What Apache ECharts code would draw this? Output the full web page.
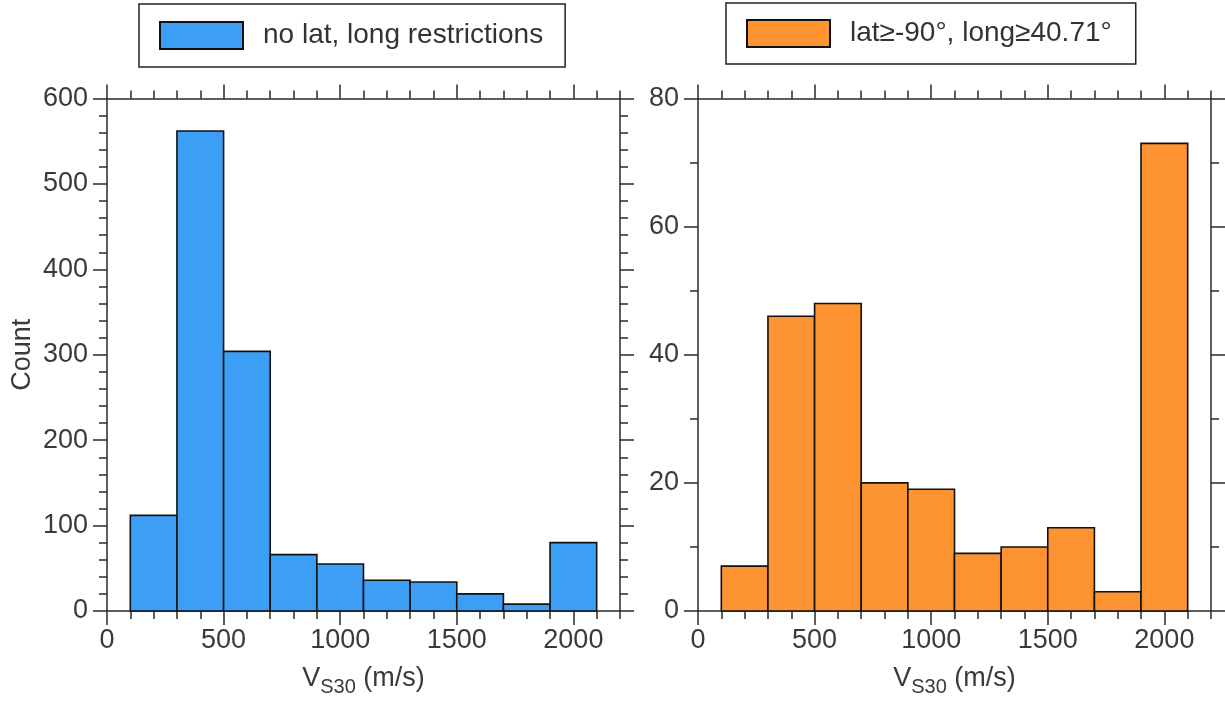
<!DOCTYPE html>
<html>
<head>
<meta charset="utf-8">
<script src="https://cdn.jsdelivr.net/npm/echarts@6/dist/echarts.min.js"></script>
<style>
  html, body { margin: 0; padding: 0; background: #fff; }
  #chart { width: 1225px; height: 702px; }
</style>
</head>
<body>
<div id="chart"></div>
<script>
// Histogram bins (m/s)
const binLow  = [100, 300, 500, 700, 900, 1100, 1300, 1500, 1700, 1900];
const binHigh = [300, 500, 700, 900, 1100, 1300, 1500, 1700, 1900, 2100];

// Counts per bin
const countsAll = [112, 562, 304, 66, 55, 36, 34, 20, 8, 80];
const countsRestricted = [7, 46, 48, 20, 19, 9, 10, 13, 3, 73];

const seriesNames = ['no lat, long restrictions', 'lat\u2265-90\u00b0, long\u226540.71\u00b0'];
const xMajorTicks = [0, 500, 1000, 1500, 2000];
const yMajorTicksAll = [0, 100, 200, 300, 400, 500, 600];
const yMajorTicksRestricted = [0, 20, 40, 60, 80];

const FONT = 'Liberation Sans, Arial, sans-serif';
const AXIS_COLOR = '#2a2a2a';
const TEXT_COLOR = '#3a3a3a';

function histData(counts) {
  return counts.map((c, i) => [binLow[i], binHigh[i], c]);
}

function renderBin(params, api) {
  const p0 = api.coord([api.value(0), api.value(2)]);
  const p1 = api.coord([api.value(1), 0]);
  return {
    type: 'rect',
    shape: { x: p0[0], y: p0[1], width: p1[0] - p0[0], height: p1[1] - p0[1] },
    style: api.style()
  };
}

const plainNumber = v => String(v);
const tickLine = { color: AXIS_COLOR, width: 1.5 };

// Each side of a frame: one axis with the line and short ticks, one with long ticks (+ labels)
function sideAxes(kind, gridIndex, pos, max, minorStep, majorValues, labelled, nameOpts) {
  const base = {
    type: 'value', gridIndex: gridIndex, position: pos,
    min: 0, max: max, interval: minorStep,
    splitLine: { show: false }
  };
  const minor = Object.assign({}, base, {
    axisLine: { show: true, onZero: false, lineStyle: tickLine },
    axisTick: { show: true, inside: false, length: 8, lineStyle: tickLine },
    axisLabel: { show: false }
  });
  const major = Object.assign({}, base, {
    axisLine: { show: false, onZero: false },
    axisTick: { show: true, inside: false, length: 14, customValues: majorValues, lineStyle: tickLine },
    axisLabel: {
      show: labelled, customValues: majorValues, formatter: plainNumber,
      margin: kind === 'x' ? 16 : 19,
      fontSize: 27, color: TEXT_COLOR, fontFamily: FONT
    }
  }, nameOpts || {});
  return [minor, major];
}

const xTitle = {
  name: '{v|V}{s|S30}{v| (m/s)}',
  nameLocation: 'middle',
  nameGap: 54,
  nameTextStyle: {
    rich: {
      v: { fontSize: 27, color: TEXT_COLOR, fontFamily: FONT, padding: [0, 0, 5, 0] },
      s: { fontSize: 20, color: TEXT_COLOR, fontFamily: FONT, verticalAlign: 'bottom' }
    }
  }
};

const yTitle = {
  name: 'Count',
  nameLocation: 'middle',
  nameGap: 71,
  nameTextStyle: { fontSize: 27, color: TEXT_COLOR, fontFamily: FONT }
};

const xAxis = [].concat(
  sideAxes('x', 0, 'bottom', 2200, 100, xMajorTicks, true, xTitle),   // 0,1
  sideAxes('x', 0, 'top', 2200, 100, xMajorTicks, false),             // 2,3
  sideAxes('x', 1, 'bottom', 2200, 100, xMajorTicks, true, xTitle),   // 4,5
  sideAxes('x', 1, 'top', 2200, 100, xMajorTicks, false)              // 6,7
);

const yAxis = [].concat(
  sideAxes('y', 0, 'left', 600, 20, yMajorTicksAll, true, yTitle),      // 0,1
  sideAxes('y', 0, 'right', 600, 20, yMajorTicksAll, false),            // 2,3
  sideAxes('y', 1, 'left', 80, 10, yMajorTicksRestricted, true),        // 4,5
  sideAxes('y', 1, 'right', 80, 10, yMajorTicksRestricted, false)       // 6,7
);

const legendCommon = {
  orient: 'horizontal',
  itemWidth: 83,
  itemHeight: 27,
  itemGap: 0,
  icon: 'rect',
  borderColor: '#222',
  borderWidth: 1.5,
  backgroundColor: '#fff',
  textStyle: { fontSize: 28, color: '#333', fontFamily: FONT, padding: [0, 0, 0, 15] },
  selectedMode: false
};

const option = {
  backgroundColor: '#ffffff',
  animation: false,
  grid: [
    { left: 107, top: 98.5, width: 513, height: 513 },
    { left: 698, top: 98.5, width: 513, height: 513 }
  ],
  legend: [
    Object.assign({}, legendCommon, {
      data: [seriesNames[0]], left: 139, top: 4, padding: [17, 22, 17, 20]
    }),
    Object.assign({}, legendCommon, {
      data: [seriesNames[1]], left: 726, top: 3, padding: [16, 24, 16, 20]
    })
  ],
  xAxis: xAxis,
  yAxis: yAxis,
  series: [
    {
      name: seriesNames[0],
      type: 'custom',
      xAxisIndex: 0, yAxisIndex: 0,
      renderItem: renderBin,
      encode: { x: [0, 1], y: 2 },
      itemStyle: { color: '#3d9ef5', borderColor: '#111', borderWidth: 1.6 },
      data: histData(countsAll)
    },
    {
      name: seriesNames[1],
      type: 'custom',
      xAxisIndex: 4, yAxisIndex: 4,
      renderItem: renderBin,
      encode: { x: [0, 1], y: 2 },
      itemStyle: { color: '#fe9332', borderColor: '#111', borderWidth: 1.6 },
      data: histData(countsRestricted)
    }
  ]
};

const chart = echarts.init(document.getElementById('chart'), null, { renderer: 'canvas' });
chart.setOption(option);
</script>
</body>
</html>
